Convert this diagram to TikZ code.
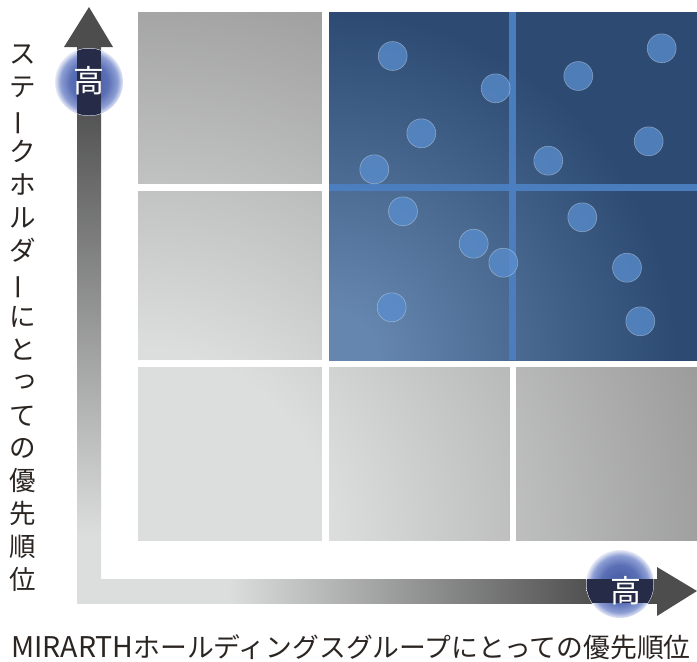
\documentclass[tikz,border=0pt]{standalone}
\usepackage{fontspec}
\newfontfamily\jp{Noto Sans CJK JP}
\usetikzlibrary{shadings}
\definecolor{gl}{HTML}{DCDDDD}
\definecolor{gd}{HTML}{989898}
\definecolor{bl}{HTML}{6586AE}
\definecolor{bd}{HTML}{2C4A72}
\definecolor{divb}{HTML}{4C80C2}
\definecolor{dotb}{HTML}{5A8FD0}
\definecolor{ad}{HTML}{4D4D4D}
\definecolor{navy}{HTML}{262C47}
\definecolor{txt}{HTML}{2B2522}
\definecolor{b1}{HTML}{4257A0}
\definecolor{b2}{HTML}{5A6FB5}
\definecolor{b3}{HTML}{8D9ED4}
\definecolor{b4}{HTML}{E6EAF6}
\pgfdeclareradialshading{grayrad}{\pgfpoint{0bp}{0bp}}{color(0bp)=(gl); color(6bp)=(gl); color(19bp)=(gd); color(50bp)=(gd)}
\pgfdeclareradialshading{bluerad}{\pgfpoint{0bp}{0bp}}{color(0bp)=(bl); color(2bp)=(bl); color(14.5bp)=(bd); color(50bp)=(bd)}
\pgfdeclareradialshading{badge}{\pgfpoint{0bp}{0bp}}{color(0bp)=(b1); color(14bp)=(b2); color(21bp)=(b3); color(25bp)=(b4); color(50bp)=(b4)}
\pgfdeclareverticalshading{vshaft}{100bp}{color(0bp)=(gl); color(31bp)=(gl); color(71bp)=(ad); color(100bp)=(ad)}
\pgfdeclarehorizontalshading{hshaft}{100bp}{color(0bp)=(gl); color(38bp)=(gl); color(70bp)=(ad); color(100bp)=(ad)}
\newcommand{\vbar}{\rotatebox[origin=c]{90}{ー}}
\tikzset{
  dot/.style={circle, minimum size=29pt, inner sep=0pt, fill=dotb, fill opacity=0.75, draw=white, draw opacity=0.35, line width=0.6pt},
  badgetxt/.style={text=white, font=\jp\fontsize{31pt}{31pt}\selectfont, inner sep=0pt},
  gap/.style={fill=white},
  divider/.style={fill=divb, fill opacity=0.95}
}
\begin{document}
\begin{tikzpicture}[x=1pt, y=-1pt]
\useasboundingbox (0,0) rectangle (697,662);
% gray grid background
\begin{scope}
  \clip (138,12) rectangle (697,540);
  \shade[shading=grayrad] (138,540) circle (800pt);
\end{scope}
% white gaps
\fill[gap] (322,10) rectangle (329,542);
\fill[gap] (510,10) rectangle (516,542);
\fill[gap] (136,184) rectangle (697,191);
\fill[gap] (136,360) rectangle (697,367);
% blue quadrant
\begin{scope}
  \clip (329,12) rectangle (697,360);
  \shade[shading=bluerad] (329,360) circle (600pt);
\end{scope}
\fill[divider] (329,184) rectangle (697,191);
\fill[divider] (509,12) rectangle (516,360);
% dots
\foreach \px/\py [count=\i] in {392.7/56, 495.7/88.3, 421.3/133.3, 374.3/169.3, 578.3/76, 661.7/48.3, 648.7/141.3, 548.3/160.7, 403/211.3, 473.7/243.7, 503.3/262.7, 391.7/307.3, 582.3/217.3, 627/267.7, 640.3/321.3}
  \node[dot] (d\i) at (\px,\py) {};
% axes
\shade[shading=vshaft] (77,47) rectangle (101,603);
\shade[shading=hshaft] (77,579) rectangle (657,603);
\fill[ad] (64,47) -- (89,7) -- (113,47) -- cycle;
\fill[ad] (657,567) -- (697,591) -- (657,616) -- cycle;
% badges
\shade[shading=badge] (89,82) circle (34pt);
\begin{scope}
  \clip (89,82) circle (33.5pt);
  \fill[navy] (77,40) rectangle (101,130);
\end{scope}
\shade[shading=badge] (620,584) circle (34pt);
\begin{scope}
  \clip (620,584) circle (33.5pt);
  \fill[navy] (580,579) rectangle (660,603);
\end{scope}
\node[badgetxt] (hv) at (88.5,81) {高};
\node[badgetxt] (hh) at (626,591) {高};
% labels
\node[text=txt, font=\jp\fontsize{26.5pt}{32.9pt}\selectfont, align=center, inner sep=0pt] (ylab) at (23,318)
  {ス\\テ\\\vbar\\ク\\ホ\\ル\\ダ\\\vbar\\に\\と\\\raisebox{0.12em}{\hspace{0.12em}っ}\\て\\の\\優\\先\\順\\位};
\node[text=txt, anchor=base west, inner sep=0pt] (xlab) at (11,657.5)
  {\jp\fontsize{28.5pt}{30pt}\selectfont MIRARTH\fontsize{26.8pt}{30pt}\selectfont ホールディングスグループにとっての優先順位};
\end{tikzpicture}
\end{document}
